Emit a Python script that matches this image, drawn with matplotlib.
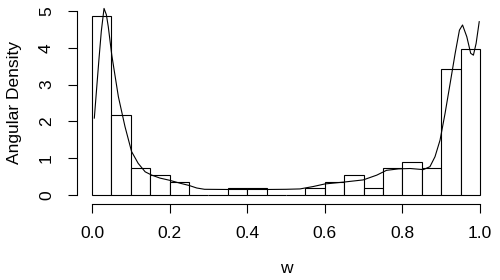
import numpy as np
import matplotlib
matplotlib.use("Agg")
import matplotlib.pyplot as plt

# Histogram: 20 bins of width 0.05 on [0, 1], counts per bin
bin_edges = [round(i * 0.05, 2) for i in range(21)]
counts = [27, 12, 4, 3, 2, 0, 0, 1, 1, 0, 0, 1, 2, 3, 1, 4, 5, 4, 19, 22]

# Density curve
curve_w = [0.006, 0.012, 0.018, 0.024, 0.031, 0.037, 0.042, 0.051, 0.060, 0.068,
           0.085, 0.102, 0.119, 0.137, 0.154, 0.175, 0.20, 0.227, 0.25, 0.27,
           0.29, 0.35, 0.40, 0.45, 0.50, 0.536, 0.570, 0.60, 0.648, 0.699,
           0.734, 0.759, 0.79, 0.82, 0.854, 0.871, 0.884, 0.897, 0.910, 0.923,
           0.936, 0.947, 0.955, 0.966, 0.976, 0.983, 0.990, 0.998]
curve_d = [2.09, 2.9, 3.7, 4.45, 5.07, 4.9, 4.57, 3.80, 3.2, 2.67,
           1.86, 1.18, 0.86, 0.63, 0.54, 0.46, 0.40, 0.32, 0.26, 0.19,
           0.155, 0.15, 0.15, 0.15, 0.155, 0.165, 0.23, 0.30, 0.35, 0.41,
           0.54, 0.67, 0.71, 0.72, 0.69, 0.77, 1.04, 1.49, 2.22, 3.03,
           3.85, 4.48, 4.62, 4.30, 3.85, 3.80, 4.12, 4.71]

x_ticks = [0.0, 0.2, 0.4, 0.6, 0.8, 1.0]
x_ticklabels = ["0.0", "0.2", "0.4", "0.6", "0.8", "1.0"]
y_ticks = [0, 1, 2, 3, 4, 5]
y_ticklabels = ["0", "1", "2", "3", "4", "5"]

plt.rcParams['font.family'] = ['Liberation Sans', 'DejaVu Sans']

W, H = 500, 280
fig = plt.figure(figsize=(W / 100, H / 100), dpi=100)
fig.patch.set_facecolor("white")

# axes placement in pixels: x 0->92, 1->480 ; y 0->195, 5->11 (from top)
x0, x1 = 92, 480
y0, y5 = 195, 11
ax = fig.add_axes([x0 / W, (H - y0) / H, (x1 - x0) / W, (y0 - y5) / H])
ax.set_xlim(0, 1)
ax.set_ylim(0, 5)

edges = np.array(bin_edges)
cnt = np.array(counts, dtype=float)
width = np.diff(edges)
dens = cnt / (cnt.sum() * width)
ax.bar(edges[:-1], dens, width=width, align="edge", facecolor="white",
       edgecolor="black", linewidth=0.8, clip_on=False)
ax.plot(curve_w, curve_d, color="black", linewidth=0.8, clip_on=False)

for s in ["top", "right"]:
    ax.spines[s].set_visible(False)
ax.spines["left"].set_position(("outward", 15 * 0.72))
ax.spines["bottom"].set_position(("outward", 8.5 * 0.72))
ax.spines["left"].set_bounds(0, 5)
ax.spines["bottom"].set_bounds(0, 1)
for s in ["left", "bottom"]:
    ax.spines[s].set_linewidth(0.8)

ax.set_xticks(x_ticks)
ax.set_xticklabels(x_ticklabels, fontsize=12.5)
ax.set_yticks(y_ticks)
ax.set_yticklabels(y_ticklabels, fontsize=12.5, rotation=90, va="center")
ax.tick_params(axis="both", direction="out", length=6.5, width=0.8, colors="black")
ax.tick_params(axis="x", pad=10)
ax.tick_params(axis="y", pad=10)

ax.set_xlabel("w", fontsize=12.5, labelpad=14)
ax.set_ylabel("Angular Density", fontsize=12.5, labelpad=12)

fig.savefig("out.png", dpi=100, facecolor="white")
